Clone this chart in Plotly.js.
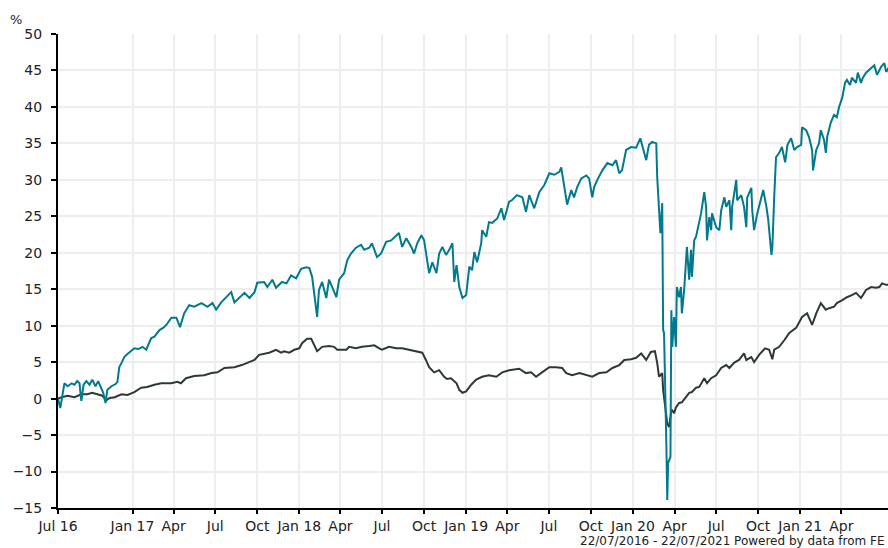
<!DOCTYPE html>
<html>
<head>
<meta charset="utf-8">
<script src="https://cdn.plot.ly/plotly-3.0.1.min.js"></script>
<style>html,body{margin:0;padding:0;background:#fff;overflow:hidden;}#chart{width:888px;height:548px;}</style>
</head>
<body>
<div id="chart"></div>
<script>
// Fund (teal) cumulative performance, %
var fundDates = ["2016-07-22","2016-07-27","2016-08-05","2016-08-12","2016-08-21","2016-08-27","2016-09-02","2016-09-07","2016-09-11","2016-09-16","2016-09-22","2016-09-29","2016-10-05","2016-10-12","2016-10-18","2016-10-25","2016-10-29","2016-11-03","2016-11-07","2016-11-16","2016-11-25","2016-11-29","2016-12-03","2016-12-08","2016-12-14","2016-12-19","2016-12-27","2017-01-05","2017-01-14","2017-01-23","2017-01-31","2017-02-11","2017-02-18","2017-03-01","2017-03-09","2017-03-16","2017-03-27","2017-04-07","2017-04-15","2017-04-24","2017-05-05","2017-05-16","2017-06-01","2017-06-14","2017-06-25","2017-07-03","2017-07-14","2017-07-25","2017-08-05","2017-08-12","2017-08-23","2017-09-03","2017-09-14","2017-09-25","2017-10-01","2017-10-16","2017-10-23","2017-11-03","2017-11-11","2017-11-24","2017-12-04","2017-12-14","2017-12-25","2018-01-05","2018-01-16","2018-01-23","2018-01-29","2018-02-05","2018-02-09","2018-02-13","2018-02-20","2018-03-01","2018-03-07","2018-03-14","2018-03-23","2018-03-29","2018-04-09","2018-04-16","2018-04-24","2018-05-05","2018-05-16","2018-05-23","2018-06-03","2018-06-09","2018-06-20","2018-06-29","2018-07-10","2018-07-21","2018-08-01","2018-08-07","2018-08-14","2018-08-23","2018-09-03","2018-09-09","2018-09-16","2018-09-25","2018-10-01","2018-10-08","2018-10-12","2018-10-19","2018-10-28","2018-11-03","2018-11-10","2018-11-18","2018-11-25","2018-12-02","2018-12-06","2018-12-11","2018-12-17","2018-12-24","2019-01-01","2019-01-08","2019-01-14","2019-01-19","2019-01-25","2019-02-03","2019-02-05","2019-02-14","2019-02-20","2019-02-27","2019-03-10","2019-03-19","2019-03-25","2019-04-05","2019-04-11","2019-04-22","2019-05-04","2019-05-12","2019-05-19","2019-05-30","2019-06-10","2019-06-21","2019-07-02","2019-07-13","2019-07-24","2019-07-28","2019-08-04","2019-08-10","2019-08-19","2019-08-25","2019-09-01","2019-09-10","2019-09-21","2019-09-27","2019-10-04","2019-10-08","2019-10-15","2019-10-26","2019-11-06","2019-11-17","2019-11-25","2019-12-02","2019-12-08","2019-12-17","2019-12-28","2020-01-08","2020-01-17","2020-01-23","2020-01-30","2020-02-05","2020-02-12","2020-02-21","2020-02-23","2020-03-01","2020-03-05","2020-03-07","2020-03-09","2020-03-14","2020-03-16","2020-03-18","2020-03-23","2020-03-25","2020-03-27","2020-03-31","2020-04-04","2020-04-06","2020-04-11","2020-04-15","2020-04-17","2020-04-22","2020-04-28","2020-05-03","2020-05-07","2020-05-09","2020-05-14","2020-05-18","2020-05-23","2020-05-29","2020-06-05","2020-06-09","2020-06-11","2020-06-16","2020-06-20","2020-06-22","2020-07-01","2020-07-08","2020-07-12","2020-07-19","2020-07-23","2020-07-30","2020-08-03","2020-08-05","2020-08-14","2020-08-16","2020-08-25","2020-08-31","2020-09-05","2020-09-07","2020-09-16","2020-09-18","2020-09-22","2020-09-29","2020-10-08","2020-10-12","2020-10-19","2020-10-23","2020-10-30","2020-11-01","2020-11-05","2020-11-09","2020-11-16","2020-11-22","2020-11-29","2020-12-04","2020-12-12","2020-12-19","2020-12-25","2021-01-03","2021-01-05","2021-01-14","2021-01-20","2021-01-27","2021-01-29","2021-02-05","2021-02-11","2021-02-15","2021-02-22","2021-02-26","2021-03-01","2021-03-09","2021-03-16","2021-03-22","2021-03-27","2021-04-03","2021-04-09","2021-04-13","2021-04-20","2021-04-24","2021-05-03","2021-05-07","2021-05-14","2021-05-18","2021-05-25","2021-06-01","2021-06-12","2021-06-18","2021-06-27","2021-07-04","2021-07-08","2021-07-15","2021-07-22"];
var fundValues = [0.0,-1.3,2.1,1.7,2.1,1.9,2.4,2.1,-0.3,1.9,2.4,1.9,2.6,1.7,2.4,1.5,0.8,-0.6,1.2,1.7,2.0,2.3,4.3,4.9,5.7,6.0,6.4,6.9,6.8,7.1,6.7,8.3,8.5,9.4,9.7,10.1,11.1,11.1,9.8,11.7,12.8,12.6,13.1,12.6,13.1,12.2,13.2,13.9,14.6,13.2,13.9,14.5,13.8,14.6,15.9,16.0,15.3,16.3,15.2,16.0,15.8,16.9,16.5,17.8,18.0,17.9,16.7,13.5,11.2,14.9,16.0,13.8,16.3,15.3,13.9,16.3,17.2,19.0,19.9,20.7,21.1,20.4,20.7,21.3,19.4,19.9,21.5,21.7,22.4,22.7,20.8,22.0,20.8,19.9,21.3,22.4,21.7,19.0,17.2,18.7,17.2,19.9,20.8,19.7,20.4,21.3,16.0,18.3,15.3,13.8,14.2,18.1,17.6,20.1,18.7,21.3,23.1,22.2,24.2,24.1,24.7,26.1,24.5,27.0,27.2,27.9,27.6,25.6,27.9,26.1,28.3,29.3,30.9,30.7,31.1,31.7,28.6,26.6,28.6,27.6,29.0,30.2,30.6,30.2,27.6,29.0,30.0,31.3,32.3,32.0,32.7,30.9,31.3,34.1,34.5,34.4,35.7,34.4,32.7,34.8,35.2,35.0,30.4,22.7,26.8,9.4,9.0,-6.1,-13.9,-8.8,-8.0,12.1,7.1,11.2,7.1,15.3,13.9,15.3,11.7,14.9,20.8,16.3,20.4,16.7,21.7,22.2,23.5,25.4,28.3,26.3,21.7,24.9,23.1,25.4,23.5,23.1,25.8,27.6,26.3,27.2,23.1,26.3,30.0,27.2,27.9,26.3,23.5,27.6,28.9,25.8,23.1,25.4,27.6,28.6,26.3,24.5,19.7,20.8,27.6,33.1,33.7,34.5,32.4,34.8,35.7,34.1,34.5,34.8,37.2,36.8,35.9,34.1,31.3,34.1,35.0,36.8,35.5,33.7,35.9,37.9,38.9,38.6,40.0,41.3,43.3,43.7,43.0,44.0,43.3,44.7,43.3,44.0,44.7,45.1,45.7,44.4,45.5,46.0,44.8,45.5,45.2];

// Benchmark (dark) cumulative performance, %
var benchDates = ["2016-07-22","2016-07-30","2016-08-12","2016-08-27","2016-09-11","2016-09-24","2016-10-05","2016-10-16","2016-10-27","2016-11-05","2016-11-12","2016-11-23","2016-12-08","2016-12-21","2017-01-05","2017-01-20","2017-02-02","2017-02-18","2017-03-05","2017-03-27","2017-04-09","2017-04-17","2017-04-28","2017-05-16","2017-06-07","2017-06-23","2017-07-06","2017-07-21","2017-08-12","2017-08-28","2017-09-14","2017-09-25","2017-10-05","2017-10-27","2017-11-11","2017-11-22","2017-11-29","2017-12-10","2017-12-21","2018-01-01","2018-01-07","2018-01-18","2018-01-27","2018-02-02","2018-02-09","2018-02-20","2018-03-07","2018-03-18","2018-03-25","2018-04-14","2018-04-20","2018-05-05","2018-05-18","2018-06-03","2018-06-14","2018-06-25","2018-07-01","2018-07-16","2018-08-01","2018-08-14","2018-08-29","2018-09-14","2018-09-27","2018-10-05","2018-10-12","2018-10-23","2018-11-03","2018-11-14","2018-11-20","2018-11-29","2018-12-11","2018-12-17","2018-12-24","2019-01-01","2019-01-12","2019-01-23","2019-02-05","2019-02-20","2019-03-08","2019-03-21","2019-04-05","2019-04-27","2019-05-12","2019-05-23","2019-06-03","2019-06-16","2019-07-02","2019-07-17","2019-07-30","2019-08-08","2019-08-21","2019-09-06","2019-09-21","2019-10-04","2019-10-19","2019-11-04","2019-11-17","2019-12-02","2019-12-13","2019-12-28","2020-01-08","2020-01-19","2020-01-30","2020-02-09","2020-02-18","2020-02-23","2020-02-27","2020-03-05","2020-03-07","2020-03-11","2020-03-16","2020-03-20","2020-03-25","2020-03-27","2020-03-31","2020-04-04","2020-04-11","2020-04-17","2020-04-26","2020-05-03","2020-05-09","2020-05-18","2020-05-25","2020-06-05","2020-06-11","2020-06-20","2020-07-01","2020-07-12","2020-07-23","2020-07-30","2020-08-09","2020-08-20","2020-08-31","2020-09-05","2020-09-16","2020-09-22","2020-10-03","2020-10-16","2020-10-25","2020-11-01","2020-11-05","2020-11-16","2020-11-27","2020-12-08","2020-12-23","2021-01-05","2021-01-16","2021-01-27","2021-02-05","2021-02-15","2021-02-26","2021-03-05","2021-03-16","2021-03-22","2021-04-03","2021-04-13","2021-04-24","2021-05-03","2021-05-14","2021-05-25","2021-06-05","2021-06-16","2021-06-23","2021-06-29","2021-07-08","2021-07-22"];
var benchValues = [0.0,0.2,0.4,0.2,0.6,0.6,0.8,0.6,0.4,-0.2,0.1,0.2,0.6,0.5,0.9,1.5,1.6,1.9,2.1,2.1,2.3,2.1,2.8,3.1,3.2,3.5,3.6,4.2,4.3,4.6,5.0,5.3,6.0,6.3,6.7,6.3,6.5,6.3,6.7,6.9,7.6,8.2,8.2,7.4,6.5,7.1,7.2,7.1,6.7,6.7,7.1,6.9,7.1,7.2,7.3,6.9,6.7,7.1,6.9,6.9,6.7,6.4,6.3,5.3,4.3,3.6,3.9,3.0,2.7,2.8,2.1,1.2,0.8,1.0,1.9,2.6,3.0,3.2,3.0,3.6,3.9,4.1,3.5,3.6,3.0,3.6,4.3,4.3,4.2,3.5,3.2,3.5,3.2,3.0,3.5,3.6,4.2,4.6,5.3,5.4,5.6,6.2,5.3,6.4,6.5,4.9,3.0,3.5,1.2,-0.6,-3.4,-3.9,-1.6,-1.6,-2.0,-1.2,-0.6,-0.5,0.2,0.8,0.9,1.5,1.6,2.8,2.1,2.8,3.2,4.2,4.6,4.2,4.9,5.3,6.2,5.3,5.7,5.0,6.0,6.9,6.7,5.4,6.7,7.1,8.0,9.0,9.7,11.2,11.7,10.1,11.7,13.1,12.2,12.4,12.6,13.1,13.5,13.9,14.2,14.5,13.8,14.9,15.3,15.2,15.3,15.8,15.6,15.6];

// Axis ticks
var xTickVals = ["2016-07-22","2017-01-01","2017-04-01","2017-07-01","2017-10-01","2018-01-01","2018-04-01","2018-07-01","2018-10-01","2019-01-01","2019-04-01","2019-07-01","2019-10-01","2020-01-01","2020-04-01","2020-07-01","2020-10-01","2021-01-01","2021-04-01"];
var xTickText = ["Jul 16","Jan 17","Apr","Jul","Oct","Jan 18","Apr","Jul","Oct","Jan 19","Apr","Jul","Oct","Jan 20","Apr","Jul","Oct","Jan 21","Apr"];
var yTickVals = [-15,-10,-5,0,5,10,15,20,25,30,35,40,45,50];

var traces = [
  {x: benchDates, y: benchValues, type: 'scatter', mode: 'lines', line: {color: '#2e3935', width: 2}, hoverinfo: 'skip'},
  {x: fundDates, y: fundValues, type: 'scatter', mode: 'lines', line: {color: '#007a8c', width: 2}, hoverinfo: 'skip'}
];

var axisCommon = {
  showgrid: true, gridcolor: '#eeeeee', gridwidth: 2,
  showline: true, linecolor: '#000', linewidth: 2,
  ticks: 'outside', ticklen: 5, tickwidth: 2, tickcolor: '#000',
  zeroline: false,
  tickfont: {family: 'DejaVu Sans, Verdana, sans-serif', size: 14, color: '#222'}
};

var layout = {
  width: 888, height: 548,
  margin: {l: 58, r: 0, t: 34, b: 40, pad: 0},
  paper_bgcolor: '#ffffff', plot_bgcolor: '#ffffff',
  showlegend: false,
  font: {family: 'DejaVu Sans, Verdana, sans-serif', size: 14, color: '#222'},
  xaxis: Object.assign({}, axisCommon, {
    type: 'date', range: ['2016-07-22', '2021-07-12'], ticklen: 4,
    tickmode: 'array', tickvals: xTickVals, ticktext: xTickText, tickangle: 0
  }),
  yaxis: Object.assign({}, axisCommon, {
    range: [-15, 50], tickmode: 'array', tickvals: yTickVals, ticklabelstandoff: 6
  }),
  annotations: [
    {text: '%', xref: 'paper', yref: 'paper', x: -0.0506, y: 1.0316, xanchor: 'center', yanchor: 'middle',
     showarrow: false, font: {family: 'DejaVu Sans, Verdana, sans-serif', size: 13, color: '#222'}},
    {text: '22/07/2016 - 22/07/2021 Powered by data from FE', xref: 'paper', yref: 'paper',
     x: 0.9985, y: -0.0696, xanchor: 'right', yanchor: 'middle', showarrow: false,
     font: {family: 'DejaVu Sans, Verdana, sans-serif', size: 12, color: '#222'}}
  ]
};

Plotly.newPlot('chart', traces, layout, {staticPlot: true, displayModeBar: false});
</script>
</body>
</html>
